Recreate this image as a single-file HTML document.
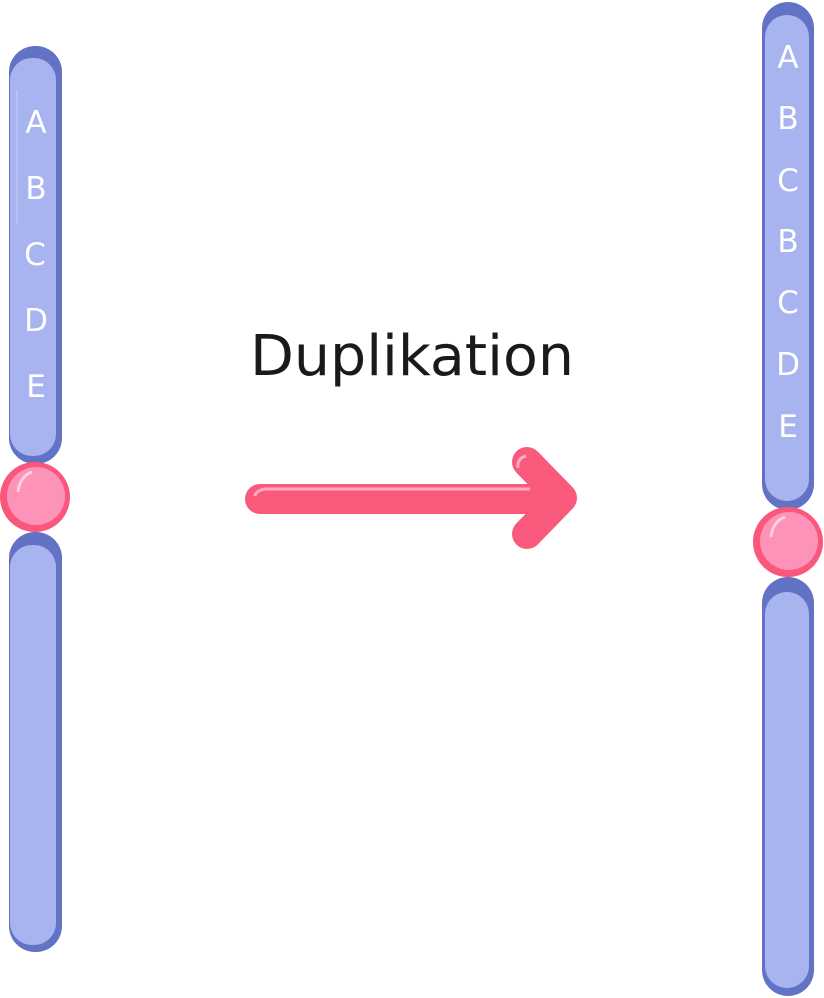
<!DOCTYPE html>
<html><head><style>html,body{margin:0;padding:0;background:#fff}svg{display:block}</style></head>
<body>
<svg width="824" height="998" viewBox="0 0 824 998" xmlns="http://www.w3.org/2000/svg">
<g font-family="DejaVu Sans, sans-serif" fill="#fff" font-size="31" text-anchor="middle">
<!-- left chromosome -->
<rect x="9" y="46" width="53" height="418" rx="26" fill="#6272c4"/>
<rect x="10" y="58" width="46" height="398" rx="22" fill="#a8b4f0"/>
<line x1="17" y1="90" x2="17" y2="225" stroke="#c4ccf8" stroke-width="1"/>
<rect x="9" y="532" width="53" height="420" rx="26" fill="#6272c4"/>
<rect x="10" y="545" width="46" height="400" rx="22" fill="#a8b4f0"/>
<circle cx="35" cy="497" r="35" fill="#f9577c"/>
<circle cx="36" cy="496" r="29" fill="#fd93b8"/>
<path d="M18 492 Q20 476 32 472" stroke="#ffd0e0" stroke-width="3" fill="none"/>
<text x="36" y="133">A</text><text x="36" y="199">B</text><text x="35" y="265">C</text><text x="36" y="331">D</text><text x="36" y="397">E</text>
<!-- right chromosome -->
<rect x="762" y="2" width="52" height="508" rx="26" fill="#6272c4"/>
<rect x="765" y="15" width="44" height="486" rx="22" fill="#a8b4f0"/>
<rect x="762" y="577" width="52" height="419" rx="26" fill="#6272c4"/>
<rect x="765" y="592" width="44" height="396" rx="22" fill="#a8b4f0"/>
<circle cx="788" cy="542" r="35" fill="#f9577c"/>
<circle cx="789" cy="541" r="29" fill="#fd93b8"/>
<path d="M771 537 Q773 521 785 517" stroke="#ffd0e0" stroke-width="3" fill="none"/>
<text x="788" y="68">A</text><text x="788" y="129">B</text><text x="788" y="191">C</text><text x="788" y="252">B</text><text x="788" y="313">C</text><text x="788" y="375">D</text><text x="788" y="437">E</text>
</g>
<text x="250" y="375" font-family="DejaVu Sans, sans-serif" font-size="56" fill="#1a1a1a" textLength="324" lengthAdjust="spacingAndGlyphs">Duplikation</text>
<!-- arrow -->
<g stroke="#f95a7c" stroke-width="30" stroke-linecap="round" stroke-linejoin="round" fill="none">
<line x1="260" y1="499" x2="555" y2="499"/>
<polyline points="527,462 562,498 527,534"/>
</g>
<path d="M255 496 Q256 490 266 489 L530 489" stroke="#ffaac4" stroke-width="3" fill="none"/>
<path d="M518 468 Q517 458 526 456" stroke="#ffaac4" stroke-width="3" fill="none"/>
</svg>
</body></html>
